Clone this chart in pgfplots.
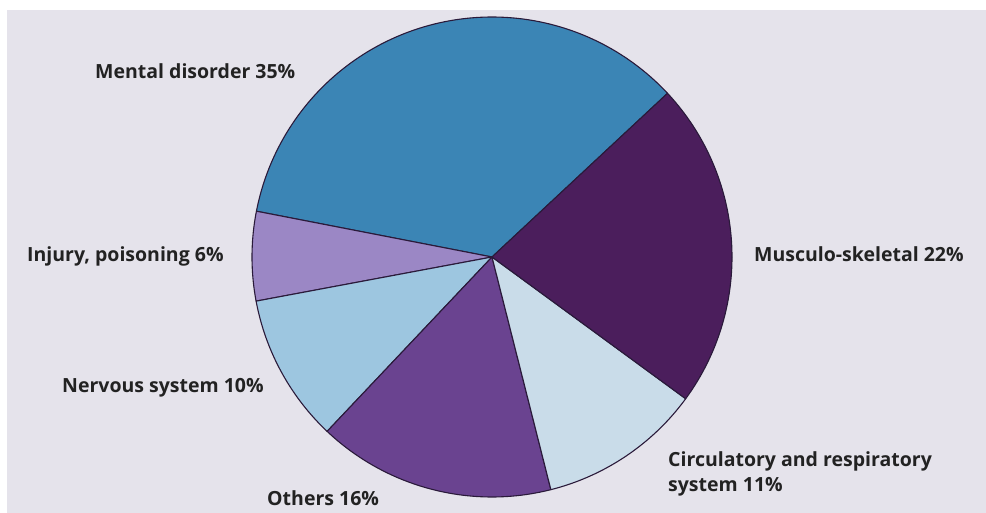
\documentclass[border=0pt]{standalone}
\usepackage{pgfplots}
\pgfplotsset{compat=1.18}
\usepackage{fontspec}
\setmainfont{Open Sans}
\definecolor{bgc}{HTML}{E5E3EB}
\definecolor{cMental}{HTML}{3B85B5}
\definecolor{cMusc}{HTML}{4B1E5C}
\definecolor{cCirc}{HTML}{C9DCE9}
\definecolor{cOther}{HTML}{6A4390}
\definecolor{cNerv}{HTML}{9DC6E0}
\definecolor{cInj}{HTML}{9B87C5}
\definecolor{edgec}{HTML}{2A1A3A}
\definecolor{txt}{HTML}{222222}
% shares in percent, counter-clockwise from the Mental disorder slice
\def\pMental{35}
\def\pInj{6}
\def\pNerv{10}
\def\pOther{16}
\def\pCirc{11}
\def\pMusc{22}
\pgfmathsetmacro\aA{43}
\pgfmathsetmacro\aB{\aA+3.6*\pMental}
\pgfmathsetmacro\aC{\aB+3.6*\pInj}
\pgfmathsetmacro\aD{\aC+3.6*\pNerv}
\pgfmathsetmacro\aE{\aD+3.6*\pOther}
\pgfmathsetmacro\aF{\aE+3.6*\pCirc}
\pgfmathsetmacro\aG{\aF+3.6*\pMusc}
\def\cx{492}
\def\cy{256}
\def\R{240}
\begin{document}
\begin{tikzpicture}
\begin{axis}[
  width=986bp, height=513bp, scale only axis,
  xmin=0, xmax=986, ymin=0, ymax=513,
  hide axis, clip=false,
]
\fill[white] (axis cs:0,0) rectangle (axis cs:986,513);
\fill[bgc] (axis cs:7,0) rectangle (axis cs:986,503);
\pgfplotsset{slice/.style={draw=edgec, line width=1.1pt, line join=round, samples=80, smooth}}
\addplot[slice, fill=cMental, domain=\aA:\aB] ({\cx+\R*cos(x)},{\cy+\R*sin(x)}) -- (axis cs:\cx,\cy) -- cycle;
\addplot[slice, fill=cInj, domain=\aB:\aC] ({\cx+\R*cos(x)},{\cy+\R*sin(x)}) -- (axis cs:\cx,\cy) -- cycle;
\addplot[slice, fill=cNerv, domain=\aC:\aD] ({\cx+\R*cos(x)},{\cy+\R*sin(x)}) -- (axis cs:\cx,\cy) -- cycle;
\addplot[slice, fill=cOther, domain=\aD:\aE] ({\cx+\R*cos(x)},{\cy+\R*sin(x)}) -- (axis cs:\cx,\cy) -- cycle;
\addplot[slice, fill=cCirc, domain=\aE:\aF] ({\cx+\R*cos(x)},{\cy+\R*sin(x)}) -- (axis cs:\cx,\cy) -- cycle;
\addplot[slice, fill=cMusc, domain=\aF:\aG] ({\cx+\R*cos(x)},{\cy+\R*sin(x)}) -- (axis cs:\cx,\cy) -- cycle;
\begin{scope}[every node/.style={font=\fontsize{19.5bp}{25bp}\selectfont\bfseries, text=txt, inner sep=0pt}]
\node[anchor=west] at (axis cs:95,442) {Mental disorder 35\%};
\node[anchor=west] at (axis cs:754,259) {Musculo-skeletal 22\%};
\node[anchor=west] at (axis cs:27,257) {Injury, poisoning 6\%};
\node[anchor=west] at (axis cs:62,125) {Nervous system 10\%};
\node[anchor=west] at (axis cs:267,15) {Others 16\%};
\node[anchor=north west, align=left] at (axis cs:668,62) {Circulatory and respiratory\\system 11\%};
\end{scope}
\end{axis}
\end{tikzpicture}
\end{document}
